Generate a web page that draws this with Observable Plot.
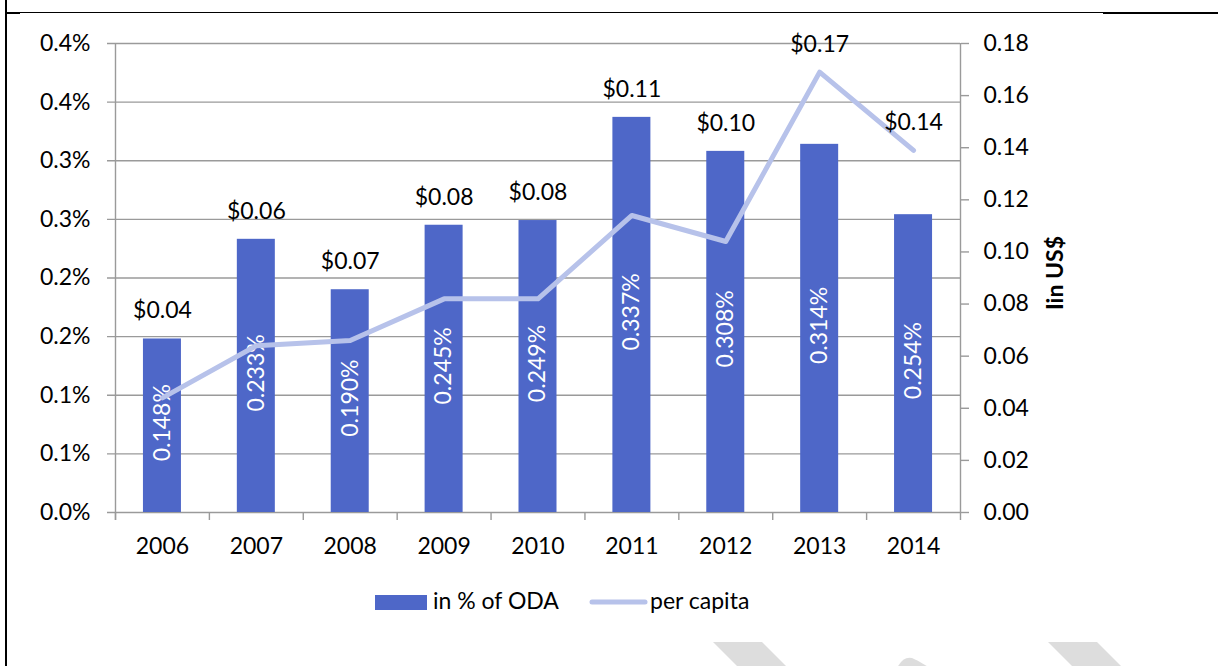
<!DOCTYPE html>
<html>
<head>
<meta charset="utf-8">
<script src="https://cdn.jsdelivr.net/npm/d3@7"></script>
<script src="https://cdn.jsdelivr.net/npm/@observablehq/plot@0.6"></script>
<style>
  html, body { margin: 0; padding: 0; background: #fff; }
  #wrap { position: relative; width: 1218px; height: 666px; overflow: hidden; font-family: Lato, "Liberation Sans", sans-serif; }
  #chart { position: absolute; left: 0; top: 0; }
  #legend { position: absolute; left: 0; top: 580px; pointer-events: none; }
  #deco { position: absolute; left: 0; top: 0; pointer-events: none; }
</style>
</head>
<body>
<div id="wrap">
  <div id="chart"></div>
  <svg id="legend" width="1218" height="50"></svg>
  <svg id="deco" width="1218" height="666">
    <line x1="6" y1="0" x2="6" y2="666" stroke="#000" stroke-width="2"></line>
    <line x1="5" y1="12.5" x2="1103" y2="12.5" stroke="#000" stroke-width="1"></line>
    <line x1="5" y1="13" x2="20" y2="13" stroke="#000" stroke-width="2"></line>
    <line x1="1103" y1="13" x2="1218" y2="13" stroke="#000" stroke-width="2"></line>
    <polygon points="713,642 762,642 788,668 739,668" fill="#dddddd"></polygon>
    <polygon points="1048,642 1097,642 1123,668 1074,668" fill="#dddddd"></polygon>
    <path d="M897,668 Q903,656 912,658 Q917,660 930,668 Z" fill="#dddddd"></path>
  </svg>
</div>
<script>
// ---- data ----
const years = ["2006", "2007", "2008", "2009", "2010", "2011", "2012", "2013", "2014"];
const odaShare = [0.148, 0.233, 0.190, 0.245, 0.249, 0.337, 0.308, 0.314, 0.254];
const perCapita = [0.044, 0.064, 0.066, 0.082, 0.082, 0.114, 0.104, 0.169, 0.139];
const leftTicks = [0, 0.05, 0.10, 0.15, 0.20, 0.25, 0.30, 0.35, 0.40];
const leftTickLabels = ["0.0%", "0.1%", "0.1%", "0.2%", "0.2%", "0.3%", "0.3%", "0.4%", "0.4%"];
const rightTicks = [0, 0.02, 0.04, 0.06, 0.08, 0.10, 0.12, 0.14, 0.16, 0.18];
const seriesNames = ["in % of ODA", "per capita"];
const rightAxisTitle = "Iin US$";

// ---- setup ----
const leftMax = 0.4, rightMax = 0.18, ratio = leftMax / rightMax;
const data = years.map((year, i) => ({ year, oda: odaShare[i], pc: perCapita[i], pcScaled: perCapita[i] * ratio }));

const W = 1218, H = 570, mL = 115, mR = 258, mT = 43, mB = 58;
const bw = (W - mL - mR) / years.length;
const barW = 38, inset = (bw - barW) / 2;
const FS = 23;
const grid = "#9a9a9a";
const barColor = "#4e67c8";
const lineColor = "#b7c2ea";
const font = "Lato, 'Liberation Sans', sans-serif";

const chart = Plot.plot({
  width: W, height: H,
  marginLeft: mL, marginRight: mR, marginTop: mT, marginBottom: mB,
  style: { fontFamily: font, fontSize: FS + "px", color: "black", background: "white" },
  x: { type: "band", domain: years, padding: 0, round: false, axis: null },
  y: { domain: [0, leftMax], axis: null },
  marks: [
    Plot.ruleY(leftTicks, { stroke: grid, strokeWidth: 1.4, insetLeft: -8 }),
    Plot.barY(data, { x: "year", y: "oda", fill: barColor, insetLeft: inset, insetRight: inset }),
    Plot.text(data, { x: "year", y: d => d.oda / 2, text: d => d3.format(".3f")(d.oda) + "%", rotate: -90, fill: "white", dy: -3 }),
    Plot.line(data, { x: "year", y: "pcScaled", stroke: lineColor, strokeWidth: 5, strokeLinecap: "round", strokeLinejoin: "round" }),
    Plot.text(data, { x: "year", y: d => Math.max(d.oda, d.pcScaled), text: d => "$" + d3.format(".2f")(d.pc), dy: -28, fill: "black" }),
    // category boundary ticks
    Plot.ruleX(years, { x: d => d, y1: 0, y2: 0, dx: -bw / 2, insetBottom: -8, stroke: grid, strokeWidth: 1.4 }),
    // left and right axis lines
    Plot.ruleX([years[0]], { x: d => d, y1: leftMax, y2: 0, dx: -bw / 2, insetBottom: -8, stroke: grid, strokeWidth: 1.4 }),
    Plot.ruleX([years[years.length - 1]], { x: d => d, y1: leftMax, y2: 0, dx: bw / 2, insetBottom: -8, stroke: grid, strokeWidth: 1.4 }),
    Plot.axisX({ tickSize: 0, tickPadding: 25, label: null, fill: "black" }),
    Plot.axisY(leftTicks, { anchor: "left", tickSize: 0, tickPadding: 25, label: null, fill: "black",
      tickFormat: d => leftTickLabels[Math.round(d / 0.05)] }),
    Plot.axisY(rightTicks.map(t => t * ratio), { anchor: "right", tickSize: 8, tickPadding: 15, label: null,
      stroke: grid, strokeWidth: 1.4, fill: "black", tickFormat: d => d3.format(".2f")(d / ratio) }),
    Plot.text([rightAxisTitle], { frameAnchor: "right", text: d => d, rotate: -90, dx: 95, dy: -5,
      textAnchor: "middle", fontWeight: "bold", fill: "black" })
  ]
});
document.getElementById("chart").appendChild(chart);

// ---- legend ----
const lg = d3.select("#legend");
lg.append("rect").attr("x", 375).attr("y", 15).attr("width", 52).attr("height", 15).attr("fill", barColor);
lg.append("text").attr("x", 433).attr("y", 29).attr("font-family", font).attr("font-size", FS).attr("fill", "black").text(seriesNames[0]);
lg.append("line").attr("x1", 592).attr("x2", 645).attr("y1", 22).attr("y2", 22)
  .attr("stroke", lineColor).attr("stroke-width", 5).attr("stroke-linecap", "round");
lg.append("text").attr("x", 650).attr("y", 29).attr("font-family", font).attr("font-size", FS).attr("fill", "black").text(seriesNames[1]);
</script>
</body>
</html>
